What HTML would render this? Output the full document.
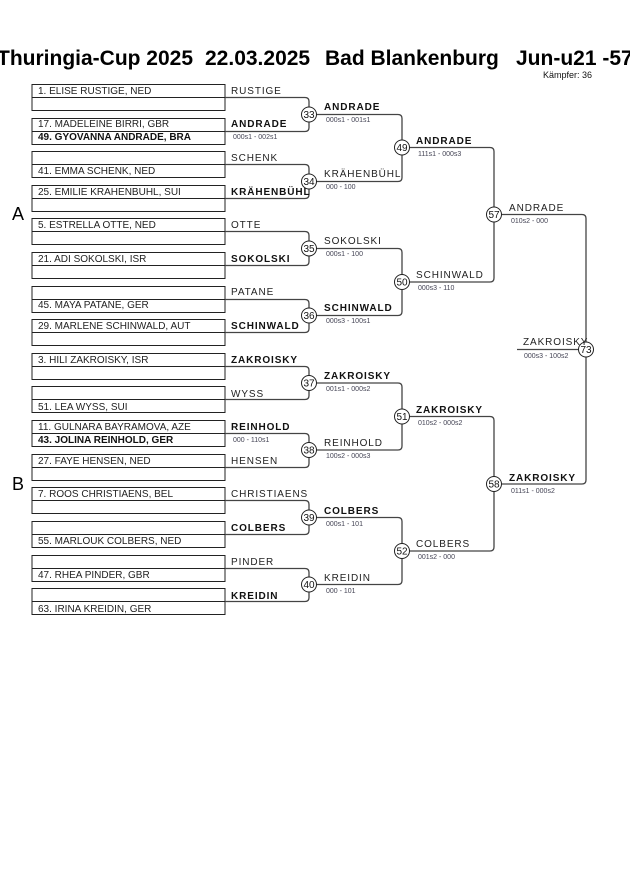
<!DOCTYPE html>
<html><head><meta charset="utf-8"><style>
html,body{margin:0;padding:0;background:#fff;}
svg{display:block;font-family:"Liberation Sans",sans-serif;}
.n{font-size:10px;fill:#222;}
.nb{font-size:10px;fill:#111;font-weight:bold;}
.l{font-size:10px;fill:#222;letter-spacing:0.9px;}
.lb{font-size:10px;fill:#111;font-weight:bold;letter-spacing:0.9px;}
.s{font-size:7px;fill:#445;}
.c{font-size:10px;fill:#111;text-anchor:middle;}
.t{font-size:21px;font-weight:bold;fill:#000;}
</style></head><body>
<svg width="630" height="891" viewBox="0 0 630 891">
<text class="t" x="-3" y="65">Thuringia-Cup 2025</text>
<text class="t" x="205" y="65">22.03.2025</text>
<text class="t" x="325" y="65">Bad Blankenburg</text>
<text class="t" x="516" y="65">Jun-u21 -57</text>
<text x="543" y="78" style="font-size:9px;fill:#111">Kämpfer: 36</text>
<text x="12" y="220" style="font-size:18px;fill:#000">A</text>
<text x="12" y="490" style="font-size:18px;fill:#000">B</text>

<g fill="none" stroke="#222" stroke-width="1">
<rect x="32" y="84.5" width="193" height="26"/><line x1="32" y1="97.5" x2="225" y2="97.5"/>
<rect x="32" y="118.5" width="193" height="26"/><line x1="32" y1="131.5" x2="225" y2="131.5"/>
<rect x="32" y="151.5" width="193" height="26"/><line x1="32" y1="164.5" x2="225" y2="164.5"/>
<rect x="32" y="185.5" width="193" height="26"/><line x1="32" y1="198.5" x2="225" y2="198.5"/>
<rect x="32" y="218.5" width="193" height="26"/><line x1="32" y1="231.5" x2="225" y2="231.5"/>
<rect x="32" y="252.5" width="193" height="26"/><line x1="32" y1="265.5" x2="225" y2="265.5"/>
<rect x="32" y="286.5" width="193" height="26"/><line x1="32" y1="299.5" x2="225" y2="299.5"/>
<rect x="32" y="319.5" width="193" height="26"/><line x1="32" y1="332.5" x2="225" y2="332.5"/>
<rect x="32" y="353.5" width="193" height="26"/><line x1="32" y1="366.5" x2="225" y2="366.5"/>
<rect x="32" y="386.5" width="193" height="26"/><line x1="32" y1="399.5" x2="225" y2="399.5"/>
<rect x="32" y="420.5" width="193" height="26"/><line x1="32" y1="433.5" x2="225" y2="433.5"/>
<rect x="32" y="454.5" width="193" height="26"/><line x1="32" y1="467.5" x2="225" y2="467.5"/>
<rect x="32" y="487.5" width="193" height="26"/><line x1="32" y1="500.5" x2="225" y2="500.5"/>
<rect x="32" y="521.5" width="193" height="26"/><line x1="32" y1="534.5" x2="225" y2="534.5"/>
<rect x="32" y="555.5" width="193" height="26"/><line x1="32" y1="568.5" x2="225" y2="568.5"/>
<rect x="32" y="588.5" width="193" height="26"/><line x1="32" y1="601.5" x2="225" y2="601.5"/>
</g>

<g fill="none" stroke="#444" stroke-width="1.3">
<path d="M225 97.5H305Q309 97.5 309 101.5V127.5Q309 131.5 305 131.5H225"/>
<path d="M225 164.5H305Q309 164.5 309 168.5V194.5Q309 198.5 305 198.5H225"/>
<path d="M225 231.5H305Q309 231.5 309 235.5V261.5Q309 265.5 305 265.5H225"/>
<path d="M225 299.5H305Q309 299.5 309 303.5V328.5Q309 332.5 305 332.5H225"/>
<path d="M225 366.5H305Q309 366.5 309 370.5V395.5Q309 399.5 305 399.5H225"/>
<path d="M225 433.5H305Q309 433.5 309 437.5V463.5Q309 467.5 305 467.5H225"/>
<path d="M225 500.5H305Q309 500.5 309 504.5V530.5Q309 534.5 305 534.5H225"/>
<path d="M225 568.5H305Q309 568.5 309 572.5V597.5Q309 601.5 305 601.5H225"/>
<path d="M309 114.5H398Q402 114.5 402 118.5V177.5Q402 181.5 398 181.5H309"/>
<path d="M309 248.5H398Q402 248.5 402 252.5V311.5Q402 315.5 398 315.5H309"/>
<path d="M309 383H398Q402 383 402 387V446Q402 450 398 450H309"/>
<path d="M309 517.5H398Q402 517.5 402 521.5V580.5Q402 584.5 398 584.5H309"/>
<path d="M402 147.5H490Q494 147.5 494 151.5V278Q494 282 490 282H402"/>
<path d="M402 416.5H490Q494 416.5 494 420.5V547Q494 551 490 551H402"/>
<path d="M494 214.5H582Q586 214.5 586 218.5V480Q586 484 582 484H494"/>
<path d="M517 349.5H586"/>
</g>

<g fill="#fff" stroke="#222" stroke-width="1">
<circle cx="309" cy="114.5" r="7.5"/><circle cx="309" cy="181.5" r="7.5"/>
<circle cx="309" cy="248.5" r="7.5"/><circle cx="309" cy="315.5" r="7.5"/>
<circle cx="309" cy="383" r="7.5"/><circle cx="309" cy="450" r="7.5"/>
<circle cx="309" cy="517.5" r="7.5"/><circle cx="309" cy="584.5" r="7.5"/>
<circle cx="402" cy="147.5" r="7.5"/><circle cx="402" cy="282" r="7.5"/>
<circle cx="402" cy="416.5" r="7.5"/><circle cx="402" cy="551" r="7.5"/>
<circle cx="494" cy="214.5" r="7.5"/><circle cx="494" cy="484" r="7.5"/>
<circle cx="586" cy="349.5" r="7.5"/>
</g>
<text class="c" x="309" y="118">33</text><text class="c" x="309" y="185">34</text>
<text class="c" x="309" y="252">35</text><text class="c" x="309" y="319">36</text>
<text class="c" x="309" y="386.5">37</text><text class="c" x="309" y="453.5">38</text>
<text class="c" x="309" y="521">39</text><text class="c" x="309" y="588">40</text>
<text class="c" x="402" y="151">49</text><text class="c" x="402" y="285.5">50</text>
<text class="c" x="402" y="420">51</text><text class="c" x="402" y="554.5">52</text>
<text class="c" x="494" y="218">57</text><text class="c" x="494" y="487.5">58</text>
<text class="c" x="586" y="353">73</text>

<text class="n" x="38" y="94">1. ELISE RUSTIGE, NED</text>
<text class="n" x="38" y="127">17. MADELEINE BIRRI, GBR</text>
<text class="nb" x="38" y="140">49. GYOVANNA ANDRADE, BRA</text>
<text class="n" x="38" y="174">41. EMMA SCHENK, NED</text>
<text class="n" x="38" y="195">25. EMILIE KRAHENBUHL, SUI</text>
<text class="n" x="38" y="228">5. ESTRELLA OTTE, NED</text>
<text class="n" x="38" y="262">21. ADI SOKOLSKI, ISR</text>
<text class="n" x="38" y="308">45. MAYA PATANE, GER</text>
<text class="n" x="38" y="329">29. MARLENE SCHINWALD, AUT</text>
<text class="n" x="38" y="363">3. HILI ZAKROISKY, ISR</text>
<text class="n" x="38" y="410">51. LEA WYSS, SUI</text>
<text class="n" x="38" y="430">11. GULNARA BAYRAMOVA, AZE</text>
<text class="nb" x="38" y="443">43. JOLINA REINHOLD, GER</text>
<text class="n" x="38" y="464">27. FAYE HENSEN, NED</text>
<text class="n" x="38" y="497">7. ROOS CHRISTIAENS, BEL</text>
<text class="n" x="38" y="544">55. MARLOUK COLBERS, NED</text>
<text class="n" x="38" y="578">47. RHEA PINDER, GBR</text>
<text class="n" x="38" y="612">63. IRINA KREIDIN, GER</text>

<text class="l" x="231" y="94">RUSTIGE</text>
<text class="lb" x="231" y="127">ANDRADE</text>
<text class="s" x="233" y="139">000s1 - 002s1</text>
<text class="l" x="231" y="161">SCHENK</text>
<text class="lb" x="231" y="195">KRÄHENBÜHL</text>
<text class="l" x="231" y="228">OTTE</text>
<text class="lb" x="231" y="262">SOKOLSKI</text>
<text class="l" x="231" y="295">PATANE</text>
<text class="lb" x="231" y="329">SCHINWALD</text>
<text class="lb" x="231" y="363">ZAKROISKY</text>
<text class="l" x="231" y="397">WYSS</text>
<text class="lb" x="231" y="430">REINHOLD</text>
<text class="s" x="233" y="442">000 - 110s1</text>
<text class="l" x="231" y="464">HENSEN</text>
<text class="l" x="231" y="497">CHRISTIAENS</text>
<text class="lb" x="231" y="531">COLBERS</text>
<text class="l" x="231" y="565">PINDER</text>
<text class="lb" x="231" y="599">KREIDIN</text>

<text class="lb" x="324" y="110">ANDRADE</text><text class="s" x="326" y="122">000s1 - 001s1</text>
<text class="l" x="324" y="177">KRÄHENBÜHL</text><text class="s" x="326" y="189">000 - 100</text>
<text class="l" x="324" y="244">SOKOLSKI</text><text class="s" x="326" y="256">000s1 - 100</text>
<text class="lb" x="324" y="311">SCHINWALD</text><text class="s" x="326" y="323">000s3 - 100s1</text>
<text class="lb" x="324" y="379">ZAKROISKY</text><text class="s" x="326" y="391">001s1 - 000s2</text>
<text class="l" x="324" y="446">REINHOLD</text><text class="s" x="326" y="458">100s2 - 000s3</text>
<text class="lb" x="324" y="514">COLBERS</text><text class="s" x="326" y="526">000s1 - 101</text>
<text class="l" x="324" y="581">KREIDIN</text><text class="s" x="326" y="593">000 - 101</text>

<text class="lb" x="416" y="144">ANDRADE</text><text class="s" x="418" y="156">111s1 - 000s3</text>
<text class="l" x="416" y="278">SCHINWALD</text><text class="s" x="418" y="290">000s3 - 110</text>
<text class="lb" x="416" y="413">ZAKROISKY</text><text class="s" x="418" y="425">010s2 - 000s2</text>
<text class="l" x="416" y="547">COLBERS</text><text class="s" x="418" y="559">001s2 - 000</text>

<text class="l" x="509" y="211">ANDRADE</text><text class="s" x="511" y="223">010s2 - 000</text>
<text class="lb" x="509" y="481">ZAKROISKY</text><text class="s" x="511" y="493">011s1 - 000s2</text>

<text class="l" x="523" y="345">ZAKROISKY</text><text class="s" x="524" y="358">000s3 - 100s2</text>
</svg>
</body></html>
